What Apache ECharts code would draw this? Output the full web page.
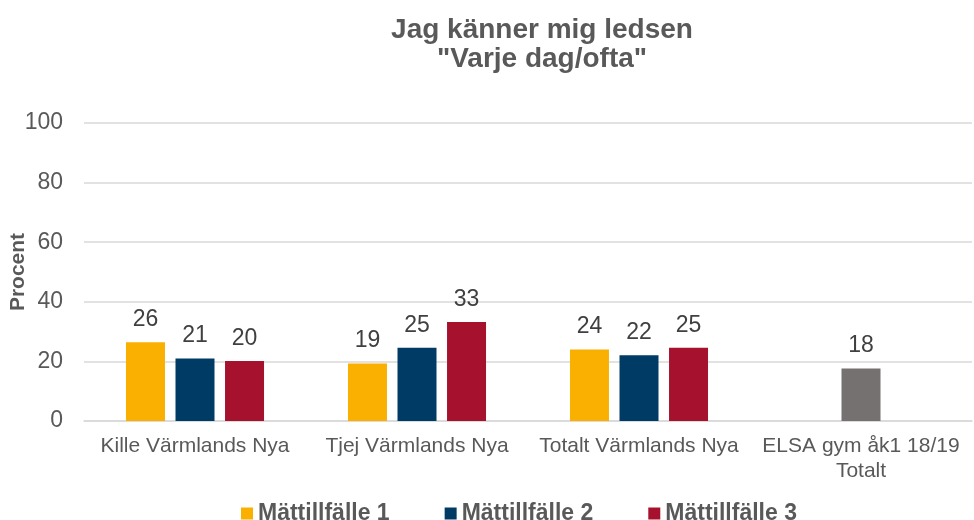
<!DOCTYPE html>
<html>
<head>
<meta charset="utf-8">
<script src="https://cdn.jsdelivr.net/npm/echarts@6/dist/echarts.min.js"></script>
<style>
  html, body { margin: 0; padding: 0; background: #fff; }
  #main { width: 974px; height: 520px; }
</style>
</head>
<body>
<div id="main"></div>
<script>
var categories = ['Kille Värmlands Nya', 'Tjej Värmlands Nya', 'Totalt Värmlands Nya', 'ELSA gym åk1 18/19\nTotalt'];
var seriesNames = ['Mättillfälle 1', 'Mättillfälle 2', 'Mättillfälle 3'];
var matt1 = [26.4, 19.3, 24.0, '-'];
var matt2 = [21.0, 24.6, 22.1, 17.6];
var matt3 = [20.1, 33.2, 24.6, '-'];
var colors = ['#F9B000', '#003B66', '#A6122D'];
var elsaColor = '#767171';

var textColor = '#595959';
var font = 'Liberation Sans, Arial, sans-serif';

function makeSeries(name, data, color) {
  return {
    name: name,
    type: 'bar',
    data: data,
    barWidth: 39,
    barGap: '27%',
    itemStyle: { color: color },
    label: {
      show: true,
      position: 'top',
      distance: 11,
      color: '#404040',
      fontSize: 23,
      fontFamily: font,
      formatter: function (p) { return Math.round(p.value); }
    }
  };
}

var s2data = matt2.map(function (v, i) {
  if (i === 3) return { value: v, itemStyle: { color: elsaColor } };
  return v;
});

var chart = echarts.init(document.getElementById('main'));
chart.setOption({
  animation: false,
  color: colors,
  title: {
    text: 'Jag känner mig ledsen\n"Varje dag/ofta"',
    left: 537,
    textAlign: 'center',
    top: 11,
    textStyle: {
      color: textColor,
      fontSize: 28,
      fontWeight: 'bold',
      fontFamily: font,
      lineHeight: 29
    }
  },
  legend: {
    top: 497,
    left: 236,
    itemWidth: 12,
    itemHeight: 12,
    itemGap: 55,
    icon: 'rect',
    textStyle: {
      color: textColor,
      fontSize: 23,
      fontWeight: 'bold',
      fontFamily: font
    },
    data: seriesNames
  },
  grid: { left: 84, right: 2, top: 123, bottom: 99, outerBoundsMode: 'none', containLabel: false },
  xAxis: {
    type: 'category',
    data: categories,
    axisLine: { lineStyle: { color: '#D9D9D9', width: 1.5 } },
    axisTick: { show: false },
    axisLabel: {
      color: textColor,
      fontSize: 21,
      fontFamily: font,
      margin: 13,
      lineHeight: 25,
      interval: 0
    }
  },
  yAxis: {
    type: 'value',
    min: 0,
    max: 100,
    interval: 20,
    name: 'Procent',
    nameLocation: 'middle',
    nameGap: 55,
    nameMoveOverlap: false,
    nameTextStyle: {
      color: textColor,
      fontSize: 21,
      fontWeight: 'bold',
      fontFamily: font
    },
    axisLine: { show: false },
    axisTick: { show: false },
    axisLabel: {
      color: textColor,
      fontSize: 23,
      fontFamily: font,
      margin: 21
    },
    splitLine: { lineStyle: { color: '#D9D9D9', width: 1.5 } }
  },
  series: [
    makeSeries(seriesNames[0], matt1, colors[0]),
    makeSeries(seriesNames[1], s2data, colors[1]),
    makeSeries(seriesNames[2], matt3, colors[2])
  ]
});
</script>
</body>
</html>
